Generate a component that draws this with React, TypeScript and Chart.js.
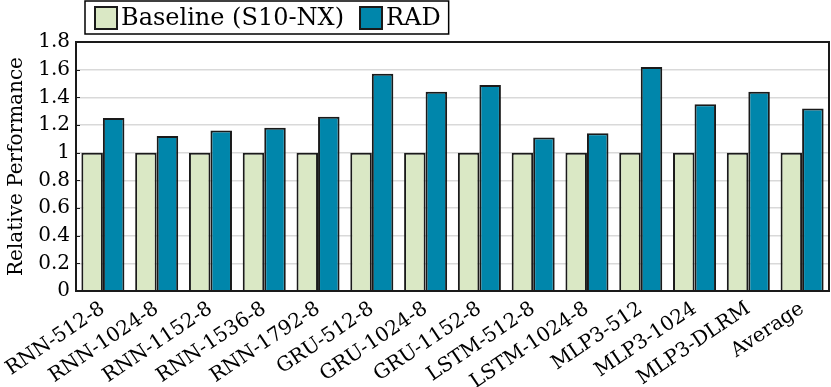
import React, { useEffect, useRef } from "react";
import { Chart, registerables } from "chart.js";

Chart.register(...registerables);

const categories = [
  "RNN-512-8", "RNN-1024-8", "RNN-1152-8", "RNN-1536-8", "RNN-1792-8",
  "GRU-512-8", "GRU-1024-8", "GRU-1152-8", "LSTM-512-8", "LSTM-1024-8",
  "MLP3-512", "MLP3-1024", "MLP3-DLRM", "Average",
];
const baselineValues = [1, 1, 1, 1, 1, 1, 1, 1, 1, 1, 1, 1, 1, 1];
const radValues = [1.25, 1.12, 1.16, 1.18, 1.26, 1.57, 1.44, 1.49, 1.11, 1.14, 1.62, 1.35, 1.44, 1.32];
const seriesNames = ["Baseline (S10-NX)", "RAD"];
const seriesColors = ["#dae8c5", "#0086ab"];
const yAxisTitle = "Relative Performance";

const FONT = "'DejaVu Serif', serif";
const EDGE = "#1a1a1a";

const framePlugin = {
  id: "frameAndLegend",
  afterDraw(chart: any) {
    const { ctx, chartArea } = chart;
    ctx.save();
    ctx.strokeStyle = EDGE;
    ctx.lineWidth = 2;
    ctx.strokeRect(chartArea.left, chartArea.top, chartArea.right - chartArea.left, chartArea.bottom - chartArea.top);
    const ys = chart.scales.y;
    ctx.lineWidth = 1;
    ys.ticks.forEach((t: any) => {
      const py = Math.round(ys.getPixelForValue(t.value)) + 0.5;
      ctx.beginPath();
      ctx.moveTo(chartArea.left, py);
      ctx.lineTo(chartArea.left + 4, py);
      ctx.stroke();
    });
    ctx.font = `24px ${FONT}`;
    ctx.textBaseline = "middle";
    ctx.textAlign = "left";
    const x0 = chartArea.left + 9;
    const top = 1;
    const h = 33;
    const cy = top + h / 2 + 0.5;
    let x = x0 + 10;
    chart.data.datasets.forEach((ds: any, i: number) => {
      ctx.fillStyle = ds.backgroundColor;
      ctx.fillRect(x, cy - 11, 22, 22);
      ctx.lineWidth = 2;
      ctx.strokeStyle = EDGE;
      ctx.strokeRect(x, cy - 11, 22, 22);
      x += 26;
      ctx.fillStyle = "#000";
      ctx.fillText(ds.label, x, cy + 1);
      x += ctx.measureText(ds.label).width;
      if (i < chart.data.datasets.length - 1) x += 16;
    });
    ctx.lineWidth = 1.5;
    ctx.strokeStyle = "#000";
    ctx.strokeRect(x0, top, x + 8 - x0, h);
    ctx.restore();
  },
};

export default function App() {
  const ref = useRef<HTMLCanvasElement>(null);
  useEffect(() => {
    if (!ref.current) return;
    const chart = new Chart(ref.current, {
      type: "bar",
      data: {
        labels: categories,
        datasets: [
          {
            label: seriesNames[0],
            data: baselineValues,
            backgroundColor: seriesColors[0],
            borderColor: EDGE,
            borderWidth: 2,
            categoryPercentage: 0.8,
            barPercentage: 1.0,
          },
          {
            label: seriesNames[1],
            data: radValues,
            backgroundColor: seriesColors[1],
            borderColor: EDGE,
            borderWidth: 2,
            categoryPercentage: 0.8,
            barPercentage: 1.0,
          },
        ],
      },
      options: {
        animation: false,
        responsive: true,
        maintainAspectRatio: false,
        layout: { padding: { top: 42, right: 2, left: 0, bottom: 0 } },
        plugins: {
          legend: { display: false },
          tooltip: { enabled: false },
        },
        scales: {
          x: {
            grid: { display: false, drawTicks: false },
            border: { display: false },
            afterFit: (s: any) => {
              s.height = 96;
              s.paddingLeft = 0;
              s.paddingRight = 0;
            },
            ticks: {
              color: "#000",
              font: { family: FONT, size: 20 },
              maxRotation: 34,
              minRotation: 34,
              autoSkip: false,
              padding: 6,
            },
          },
          y: {
            min: 0,
            max: 1.8,
            grid: { color: "#d9d9d9", lineWidth: 1.5, drawTicks: false },
            border: { display: false },
            afterFit: (s: any) => {
              s.width = 76;
            },
            ticks: {
              stepSize: 0.2,
              autoSkip: false,
              color: "#000",
              font: { family: FONT, size: 20 },
              padding: 6,
              callback: (v: any) => String(+Number(v).toFixed(1)),
            },
            title: {
              display: true,
              text: yAxisTitle,
              color: "#000",
              font: { family: FONT, size: 20 },
              padding: { top: 5, bottom: 2 },
            },
          },
        },
      },
      plugins: [framePlugin],
    });
    return () => chart.destroy();
  }, []);
  return (
    <div style={{ position: "fixed", left: 0, top: 0, width: 831, height: 387, background: "#fff" }}>
      <canvas ref={ref} />
    </div>
  );
}
